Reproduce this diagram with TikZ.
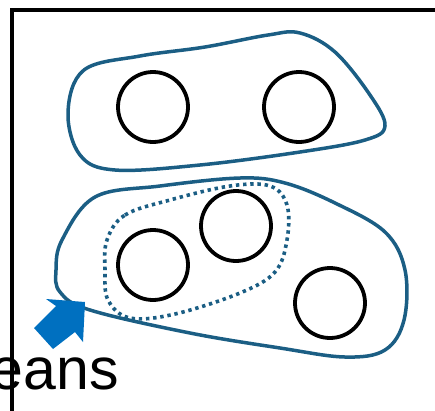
\documentclass[tikz,border=0pt]{standalone}
\usepackage{fontspec}
\setmainfont{Liberation Sans}
\definecolor{blobc}{HTML}{1B5E84}
\definecolor{arrowc}{HTML}{0070C0}
\tikzset{
  blob/.style={draw=blobc, line width=3.5pt},
  subblob/.style={draw=blobc, line width=3.6pt, dash pattern=on 3.4pt off 3.8pt},
  elem/.style={circle, draw=black, line width=3.8pt, minimum size=70pt, inner sep=0pt},
  frame/.style={draw=black, line width=3.4pt},
}
\begin{document}
\begin{tikzpicture}[x=1pt,y=-1pt]
\useasboundingbox (0,0) rectangle (435,410);
\clip (0,0) rectangle (435,410);
% frame
\draw[frame] (12,411) -- (12,10) -- (436,10);
% label
\node[anchor=base east, inner sep=0pt, font=\fontsize{59}{62}\selectfont] (lbl) at (119,389) {eans};
% top group
\draw[blob] plot[smooth cycle, tension=0.6] coordinates {
  (68,112) (84,70) (140,56) (205,47) (268,35) (300,33) (335,52) (370,95) (385,126)
  (365,140) (300,152) (200,165) (115,170) (80,155)};
% bottom group
\draw[blob] plot[smooth cycle, tension=0.6] coordinates {
  (62,240) (95,197) (160,186) (240,178) (285,183) (335,203) (385,232) (405,270)
  (404,320) (385,350) (345,357) (280,348) (190,333) (90,310) (60,292) (56,270)};
% subgroup
\draw[subblob] plot[smooth cycle, tension=0.6] coordinates {
  (107,240) (125,215) (170,200) (230,186) (270,186) (287,205) (287,240) (275,272)
  (240,293) (175,314) (130,318) (108,300) (105,270)};
% elements
\node[elem] (a) at (153,107) {};
\node[elem] (b) at (299,107) {};
\node[elem] (c) at (153,265) {};
\node[elem] (d) at (236,226) {};
\node[elem] (e) at (330,303) {};
% arrow
\fill[arrowc] (34,328) -- (56,306) -- (46,299) -- (85,302) -- (83,342) -- (75,332) -- (53,349) -- cycle;
\end{tikzpicture}
\end{document}
